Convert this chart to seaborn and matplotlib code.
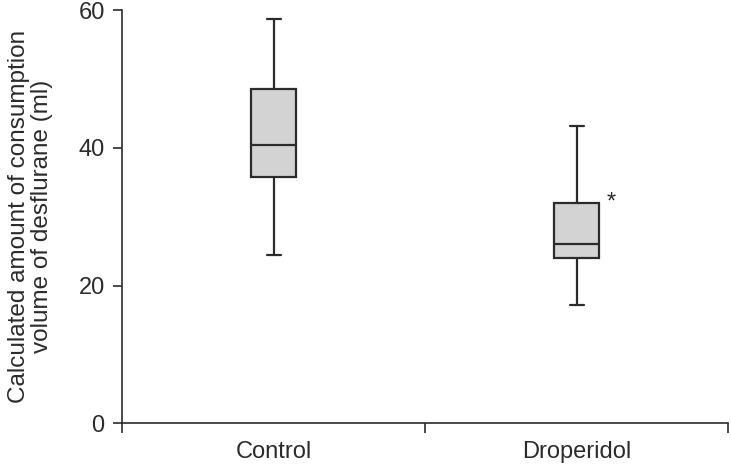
import pandas as pd
import matplotlib
matplotlib.use("Agg")
import matplotlib.pyplot as plt
import seaborn as sns

# five-number summaries (min, Q1, median, Q3, max)
groups = ["Control", "Droperidol"]
control_vals = [24.5, 35.7, 40.4, 48.6, 58.8]
droperidol_vals = [17.2, 24.0, 26.05, 32.0, 43.2]
y_ticks = [0, 20, 40, 60]

df = pd.DataFrame({
    "group": ["Control"] * len(control_vals) + ["Droperidol"] * len(droperidol_vals),
    "value": control_vals + droperidol_vals,
})

sns.set_theme(style="ticks")
plt.rcParams['font.family'] = ['Liberation Sans', 'DejaVu Sans']

dark = "#2b2b2b"
fig = plt.figure(figsize=(7.31, 4.66), dpi=100)
ax = fig.add_axes([0.167, 0.092, 0.829, 0.886])

sns.boxplot(data=df, x="group", y="value", order=groups, whis=(0, 100),
            width=0.147, color="#d3d3d3", linewidth=1.6, linecolor=dark,
            saturation=1, fliersize=0, ax=ax)

# shorten the whisker caps
for ln in ax.lines:
    xs = ln.get_xdata()
    ys = ln.get_ydata()
    if len(xs) == 2 and ys[0] == ys[1] and abs(xs[1] - xs[0]) > 0:
        c = (xs[0] + xs[1]) / 2
        half = abs(xs[1] - xs[0]) / 2
        if half < 0.06:
            ln.set_xdata([c - 0.023, c + 0.023])

ax.set_xlim(-0.5, 1.5)
ax.set_ylim(0, 60)
ax.set_yticks(y_ticks)
ax.set_xticks([0, 1])
ax.set_xticklabels(groups)
ax.set_xticks([-0.5, 0.5, 1.5], minor=True)
ax.tick_params(axis="x", which="major", length=0, pad=13, labelsize=17, labelcolor=dark)
ax.tick_params(axis="x", which="minor", length=7, width=1.2, color=dark, direction="out")
ax.tick_params(axis="y", length=6.5, width=1.2, color=dark, labelsize=17, labelcolor=dark, pad=6)
ax.set_xlabel("")
ax.set_ylabel("Calculated amount of consumption\nvolume of desflurane (ml)",
              fontsize=17.5, color=dark, labelpad=18, linespacing=1.1)
for s in ["left", "bottom"]:
    ax.spines[s].set_color(dark)
    ax.spines[s].set_linewidth(1.2)
sns.despine(ax=ax)

ax.text(1.115, 32.0, "*", fontsize=17, color=dark, ha="center", va="center")

fig.savefig("out.png", dpi=100)
